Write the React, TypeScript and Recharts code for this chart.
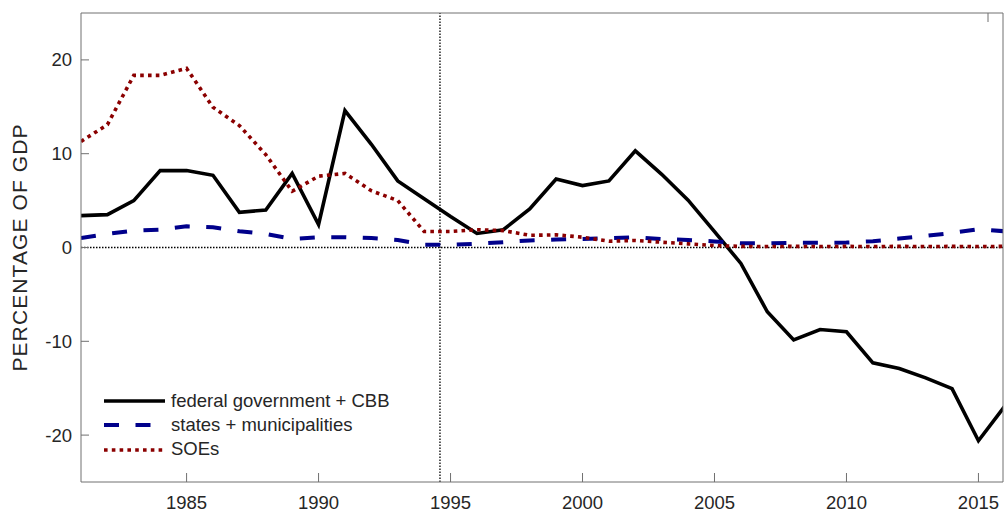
import React from "react";
import {
  LineChart,
  Line,
  XAxis,
  YAxis,
  ReferenceLine,
  Legend,
} from "recharts";

// values, % of GDP
const years = [
  1981, 1982, 1983, 1984, 1985, 1986, 1987, 1988, 1989, 1990, 1991, 1992,
  1993, 1994, 1995, 1996, 1997, 1998, 1999, 2000, 2001, 2002, 2003, 2004,
  2005, 2006, 2007, 2008, 2009, 2010, 2011, 2012, 2013, 2014, 2015, 2016,
];
const federal = [
  3.4, 3.5, 5.0, 8.2, 8.2, 7.7, 3.75, 4.0, 7.9, 2.45, 14.6, 11.0,
  7.1, 5.2, 3.3, 1.5, 1.9, 4.1, 7.3, 6.6, 7.1, 10.3, 7.8, 5.05,
  1.7, -1.7, -6.85, -9.85, -8.75, -8.98, -12.3, -12.9, -13.9, -15.05, -20.6, -16.9,
];
const states = [
  1.0, 1.45, 1.8, 1.9, 2.26, 2.15, 1.73, 1.45, 0.92, 1.1, 1.1, 1.0,
  0.8, 0.3, 0.28, 0.4, 0.57, 0.75, 0.85, 0.9, 1.0, 1.1, 0.9, 0.8,
  0.65, 0.45, 0.45, 0.5, 0.5, 0.53, 0.67, 0.95, 1.24, 1.55, 1.95, 1.73,
];
const soes = [
  11.3, 13.1, 18.35, 18.35, 19.1, 14.95, 13.0, 9.9, 6.0, 7.6, 7.9, 6.05,
  5.0, 1.7, 1.7, 1.9, 1.8, 1.3, 1.35, 1.1, 0.67, 0.75, 0.56, 0.39,
  0.2, 0.12, 0.1, 0.12, 0.1, 0.12, 0.1, 0.12, 0.1, 0.12, 0.1, 0.12,
];
const xTicks = [1985, 1990, 1995, 2000, 2005, 2010, 2015];
const yTicks = [-20, -10, 0, 10, 20];
const xDomain = [1981, 2015.93];
const yDomain = [-25, 25];
const realPlan = 1994.6;

const FONT = "'Liberation Sans', Arial, sans-serif";
const TEXT = "#262626";
const AXIS = "#707070";
const FS = 18.5;

const series = [
  { key: "federal", label: "federal government + CBB", color: "#000000", width: 3.6, dash: undefined },
  { key: "states", label: "states + municipalities", color: "#00008b", width: 4, dash: "15 16.5" },
  { key: "soes", label: "SOEs", color: "#8b0000", width: 3.6, dash: "3.6 4.2" },
];

const data = years.map((year, i) => ({
  year,
  federal: federal[i],
  states: states[i],
  soes: soes[i],
}));

// matlab style: ticks point into the box
const bottomGap = 14;
const leftGap = 9;

const BottomTick = (p: any) => (
  <g>
    <line x1={p.x} x2={p.x} y1={p.y - bottomGap} y2={p.y - bottomGap - 9} stroke={AXIS} />
    <text x={p.x} y={p.y} dy="0.71em" textAnchor="middle" fill={TEXT} fontSize={FS} fontFamily={FONT}>
      {p.payload.value}
    </text>
  </g>
);

const LeftTick = (p: any) => (
  <g>
    <line x1={p.x + leftGap} x2={p.x + leftGap + 8} y1={p.y} y2={p.y} stroke={AXIS} />
    <text x={p.x} y={p.y} dy="0.355em" textAnchor="end" fill={TEXT} fontSize={FS} fontFamily={FONT}>
      {p.payload.value}
    </text>
  </g>
);

const TopTick = (p: any) => (
  <line x1={p.x} x2={p.x} y1={p.y} y2={p.y + 9} stroke={AXIS} />
);

const RightTick = (p: any) => (
  <line x1={p.x} x2={p.x - 8} y1={p.y} y2={p.y} stroke={AXIS} />
);

const renderLegend = () => (
  <div style={{ fontFamily: FONT, fontSize: FS, color: TEXT }}>
    {series.map((s) => (
      <div key={s.key} style={{ display: "flex", alignItems: "center", height: 24.3 }}>
        <svg width={61} height={10}>
          <line x1={0} y1={5} x2={61} y2={5} stroke={s.color} strokeWidth={s.width} strokeDasharray={s.dash} />
        </svg>
        <span style={{ marginLeft: 6, lineHeight: 1, whiteSpace: "nowrap" }}>{s.label}</span>
      </div>
    ))}
  </div>
);

const App = () => (
  <>
    {/* chart fills the whole window, so drop the default body margin */}
    <style>{"body{margin:0;overflow:hidden}"}</style>
    <LineChart
      width={1004}
      height={512}
      data={data}
      margin={{ top: 12, right: 0, left: 8, bottom: 0 }}
    >
      <XAxis
        dataKey="year"
        type="number"
        domain={xDomain}
        allowDataOverflow
        ticks={xTicks}
        tick={BottomTick}
        tickLine={false}
        tickSize={0}
        tickMargin={bottomGap}
        height={30}
        stroke={AXIS}
      />
      <XAxis
        xAxisId="top"
        orientation="top"
        type="number"
        domain={xDomain}
        allowDataOverflow
        ticks={xTicks}
        tick={TopTick}
        tickLine={false}
        tickSize={0}
        tickMargin={0}
        height={1}
        stroke={AXIS}
      />
      <YAxis
        type="number"
        domain={yDomain}
        ticks={yTicks}
        tick={LeftTick}
        tickLine={false}
        tickSize={0}
        tickMargin={leftGap}
        width={73}
        stroke={AXIS}
        label={{
          value: "PERCENTAGE OF GDP",
          angle: -90,
          position: "insideLeft",
          dx: 7,
          style: {
            textAnchor: "middle",
            fill: TEXT,
            fontSize: 21,
            letterSpacing: 1.1,
            fontFamily: FONT,
          },
        }}
      />
      <YAxis
        yAxisId="right"
        orientation="right"
        type="number"
        domain={yDomain}
        ticks={yTicks}
        tick={RightTick}
        tickLine={false}
        tickSize={0}
        tickMargin={0}
        width={1}
        stroke={AXIS}
      />
      <ReferenceLine y={0} stroke="#000" strokeWidth={1.3} strokeDasharray="1.5 1.5" />
      <ReferenceLine x={realPlan} stroke="#000" strokeWidth={1.3} strokeDasharray="1.5 1.5" />
      {series.map((s) => (
        <Line
          key={s.key}
          type="linear"
          dataKey={s.key}
          stroke={s.color}
          strokeWidth={s.width}
          strokeDasharray={s.dash}
          dot={false}
          isAnimationActive={false}
        />
      ))}
      <Legend
        content={renderLegend}
        layout="vertical"
        align="center"
        verticalAlign="middle"
        wrapperStyle={{ left: 104, top: 389, width: "auto" }}
      />
    </LineChart>
  </>
);

export default App;
